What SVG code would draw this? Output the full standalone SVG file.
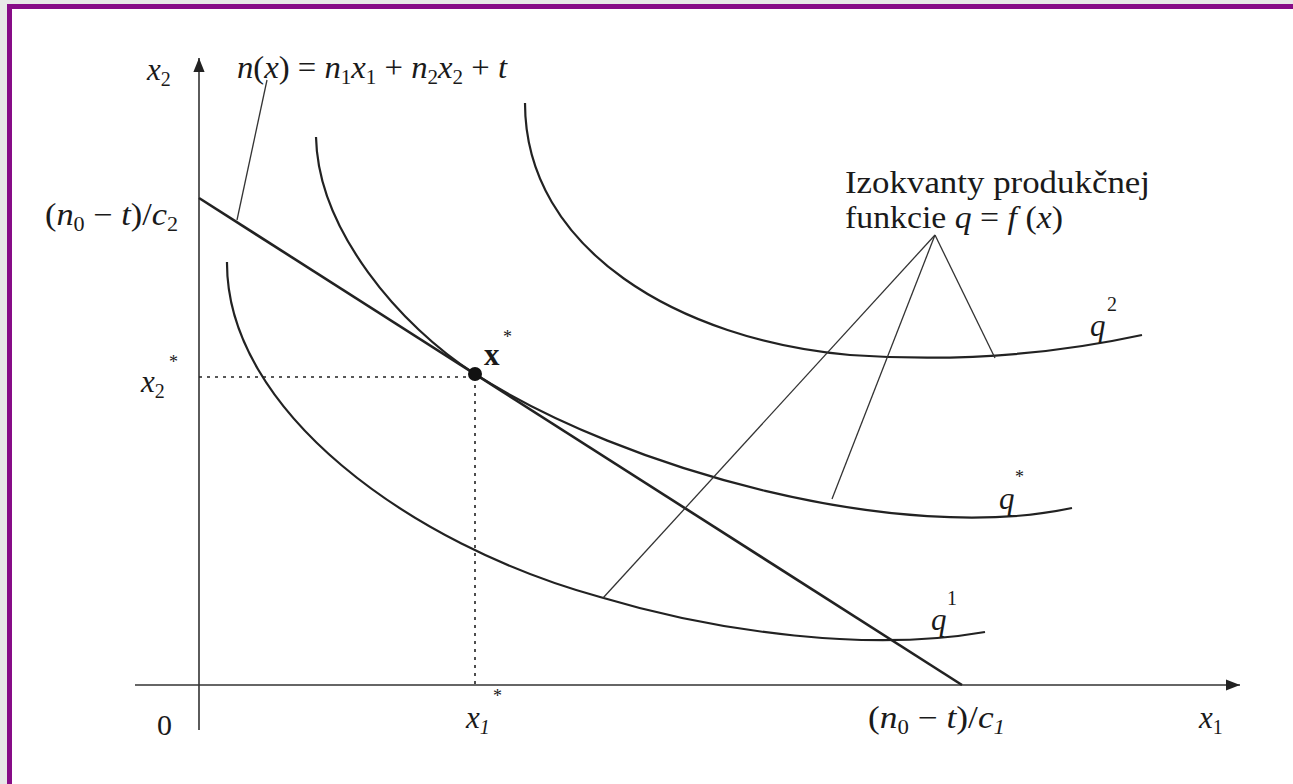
<svg xmlns="http://www.w3.org/2000/svg" width="1293" height="784" viewBox="0 0 1293 784">
<defs>
<marker id="arr" viewBox="0 0 10 10" refX="10" refY="5" markerWidth="14" markerHeight="14" markerUnits="userSpaceOnUse" orient="auto">
<path d="M0,1 L10,5 L0,9 Z" fill="#222"/>
</marker>
<style>
.t{font-family:"Liberation Serif",serif;fill:#1a1a1a;}
.i{font-style:italic;}
.ax{stroke:#333;stroke-width:1.6;fill:none;}
.cv{stroke:#222;stroke-width:2.2;fill:none;}
.ptr{stroke:#333;stroke-width:1.3;fill:none;}
.dot{stroke:#222;stroke-width:1.6;stroke-dasharray:3,5;fill:none;}
</style>
</defs>
<rect x="0" y="0" width="1293" height="784" fill="#e8e8e8"/>
<rect x="7" y="4" width="1300" height="800" fill="#ffffff"/>
<rect x="9.5" y="6.5" width="1300" height="800" fill="none" stroke="#870c87" stroke-width="5"/>

<g id="axes">
<line class="ax" x1="199" y1="730" x2="199" y2="58" marker-end="url(#arr)"/>
<line class="ax" x1="135" y1="685" x2="1240" y2="685" marker-end="url(#arr)"/>
</g>

<g id="guides">
<line class="dot" x1="199" y1="377" x2="475" y2="377"/>
<line class="dot" x1="475" y1="377" x2="475" y2="685"/>
</g>

<g id="curves">
<path id="q1" class="cv" d="M227,262 C226,410 410,545 600,597 C720,633 870,652 985,632"/>
<path id="qstar" class="cv" d="M316,137 C318,230 400,326 475,374 C625,470 900,545 1072,508"/>
<path id="q2" class="cv" d="M525,103 C525,250 680,340 850,355 C950,362 1050,355 1142,335"/>
<line id="budget" x1="199" y1="198" x2="962" y2="685" stroke="#222" stroke-width="2.6"/>
</g>

<g id="connectors">
<line class="ptr" x1="267" y1="80" x2="237" y2="220"/>
<line class="ptr" x1="935" y1="235" x2="603" y2="598"/>
<line class="ptr" x1="935" y1="235" x2="832" y2="499"/>
<line class="ptr" x1="935" y1="235" x2="995" y2="358"/>
</g>

<g id="point">
<circle cx="475" cy="374" r="7" fill="#111"/>
<text class="t" x="484" y="365" font-size="31" font-weight="bold">x</text>
<text class="t" x="503" y="343" font-size="18">*</text>
</g>

<g id="labels">
<text class="t i" x="147" y="80" font-size="31">x<tspan font-style="normal" font-size="20" dy="6">2</tspan></text>
<text class="t i" x="237" y="78" font-size="31" textLength="270" lengthAdjust="spacingAndGlyphs">n<tspan font-style="normal">(</tspan>x<tspan font-style="normal">) = </tspan>n<tspan font-style="normal" font-size="20" dy="6">1</tspan><tspan dy="-6">x</tspan><tspan font-style="normal" font-size="20" dy="6">1</tspan><tspan font-style="normal" dy="-6"> + </tspan>n<tspan font-style="normal" font-size="20" dy="6">2</tspan><tspan dy="-6">x</tspan><tspan font-style="normal" font-size="20" dy="6">2</tspan><tspan font-style="normal" dy="-6"> + </tspan>t</text>
<text class="t i" x="45" y="225" font-size="31" textLength="133" lengthAdjust="spacingAndGlyphs"><tspan font-style="normal">(</tspan>n<tspan font-style="normal" font-size="20" dy="6">0</tspan><tspan font-style="normal" dy="-6"> − </tspan>t<tspan font-style="normal">)/</tspan>c<tspan font-style="normal" font-size="20" dy="6">2</tspan></text>
<text class="t i" x="141" y="392" font-size="31">x<tspan font-style="normal" font-size="20" dy="6">2</tspan></text>
<text class="t" x="169" y="368" font-size="18">*</text>
<text class="t" x="157" y="735" font-size="30">0</text>
<text class="t i" x="466" y="728" font-size="31">x<tspan font-size="20" dy="6">1</tspan></text>
<text class="t" x="493" y="702" font-size="18">*</text>
<text class="t i" x="868" y="728" font-size="31" textLength="137" lengthAdjust="spacingAndGlyphs"><tspan font-style="normal">(</tspan>n<tspan font-style="normal" font-size="20" dy="6">0</tspan><tspan font-style="normal" dy="-6"> − </tspan>t<tspan font-style="normal">)/</tspan>c<tspan font-size="20" dy="6">1</tspan></text>
<text class="t i" x="1199" y="728" font-size="31">x<tspan font-style="normal" font-size="20" dy="6">1</tspan></text>
<text class="t" x="845" y="193" font-size="31" textLength="305" lengthAdjust="spacingAndGlyphs">Izokvanty produkčnej</text>
<text class="t" x="845" y="228" font-size="31" textLength="218" lengthAdjust="spacingAndGlyphs">funkcie <tspan font-style="italic">q</tspan> = <tspan font-style="italic">f</tspan> (<tspan font-style="italic">x</tspan>)</text>
<text class="t i" x="1090" y="336" font-size="31">q</text>
<text class="t" x="1107" y="311" font-size="20">2</text>
<text class="t i" x="999" y="509" font-size="31">q</text>
<text class="t" x="1015" y="483" font-size="18">*</text>
<text class="t i" x="931" y="630" font-size="31">q</text>
<text class="t" x="947" y="605" font-size="20">1</text>
</g>
</svg>
